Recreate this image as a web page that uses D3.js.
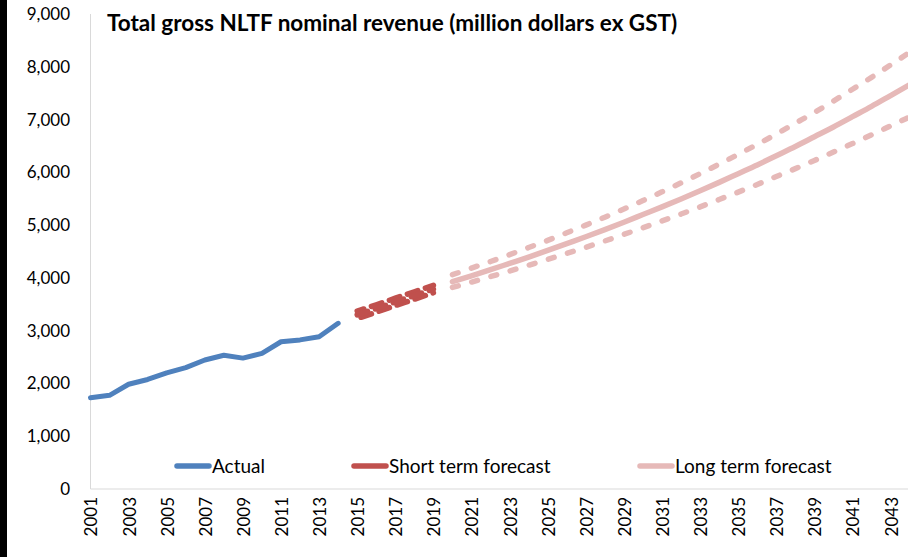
<!DOCTYPE html>
<html lang="en">
<head>
    <meta charset="UTF-8">
    <title>Total gross NLTF nominal revenue</title>
    <style>
        body { margin: 0; background: #fff; }
        svg { display: block; font-family: Lato, "Open Sans", sans-serif; }
        .tick-label { font-size: 17px; fill: #000; }
        .legend-label { font-size: 19px; fill: #000; }
    </style>
</head>
<body>
    <div id="chart"></div>

    <script src="https://d3js.org/d3.v7.min.js"></script>

    <script>
        // Data (million dollars ex GST)
        const actualYears = [2001, 2002, 2003, 2004, 2005, 2006, 2007, 2008, 2009, 2010, 2011, 2012, 2013, 2014];
        const actualValues = [1730, 1775, 1985, 2075, 2200, 2300, 2445, 2535, 2480, 2570, 2790, 2825, 2885, 3140];

        const shortYears = [2015, 2016, 2017, 2018, 2019];
        const shortUpper = [3370, 3490, 3615, 3735, 3860];
        const shortCentral = [3300, 3420, 3545, 3665, 3790];
        const shortLower = [3230, 3350, 3475, 3595, 3720];

        const longYears = [2020, 2021, 2022, 2023, 2024, 2025, 2026, 2027, 2028, 2029, 2030, 2031,
                           2032, 2033, 2034, 2035, 2036, 2037, 2038, 2039, 2040, 2041, 2042, 2043, 2044];
        const longUpper = [4060, 4185, 4310, 4440, 4575, 4710, 4855, 5000, 5150, 5305, 5465, 5630,
                           5800, 5975, 6155, 6340, 6530, 6725, 6930, 7135, 7350, 7575, 7800, 8035, 8275];
        const longCentral = [3930, 4040, 4155, 4275, 4395, 4520, 4650, 4780, 4915, 5055, 5200, 5345,
                             5495, 5650, 5810, 5975, 6140, 6315, 6490, 6675, 6860, 7055, 7250, 7455, 7660];
        const longLower = [3820, 3920, 4025, 4130, 4240, 4350, 4465, 4580, 4700, 4825, 4950, 5080,
                           5210, 5345, 5485, 5625, 5770, 5920, 6070, 6225, 6385, 6545, 6710, 6880, 7050];

        const yTicks = [0, 1000, 2000, 3000, 4000, 5000, 6000, 7000, 8000, 9000];
        const xTickYears = d3.range(2001, 2044, 2);

        const legendItems = ["Actual", "Short term forecast", "Long term forecast"];
        const titleText = "Total gross NLTF nominal revenue (million dollars ex GST)";

        const width = 908, height = 557;
        const colors = { actual: "#4F81BD", short: "#C0504D", long: "#E6B9B8" };

        const x = d3.scaleLinear().domain([2001, 2044]).range([90.5, 90.5 + 43 * 19.05]);
        const y = d3.scaleLinear().domain([0, 9000]).range([489, 14]);

        const svg = d3.select("#chart").append("svg")
            .attr("width", width)
            .attr("height", height);

        // black strip on the left edge
        svg.append("rect")
            .attr("x", 0).attr("y", 0)
            .attr("width", 7).attr("height", height)
            .attr("fill", "#000");

        // axes lines
        svg.append("line")
            .attr("x1", x(2001)).attr("x2", x(2001))
            .attr("y1", y(9000)).attr("y2", y(0))
            .attr("stroke", "#D9D9D9").attr("stroke-width", 1);
        svg.append("line")
            .attr("x1", x(2001)).attr("x2", width)
            .attr("y1", y(0)).attr("y2", y(0))
            .attr("stroke", "#D9D9D9").attr("stroke-width", 1);

        // y tick labels
        svg.selectAll(".ylab")
            .data(yTicks)
            .enter().append("text")
            .attr("class", "tick-label")
            .attr("x", 70)
            .attr("y", d => y(d))
            .attr("dy", "0.35em")
            .attr("text-anchor", "end")
            .text(d => d3.format(",")(d));

        // x tick labels (rotated)
        svg.selectAll(".xlab")
            .data(xTickYears)
            .enter().append("text")
            .attr("class", "tick-label")
            .attr("transform", d => "translate(" + (x(d) + 1) + ",497) rotate(-90)")
            .attr("dy", "0.35em")
            .attr("text-anchor", "end")
            .text(d => d);

        // title
        svg.append("text")
            .attr("x", 107)
            .attr("y", 31)
            .attr("font-size", "22.5px")
            .attr("font-weight", "bold")
            .attr("fill", "#000")
            .text(titleText);

        const line = d3.line()
            .x(d => x(d[0]))
            .y(d => y(d[1]))
            .curve(d3.curveMonotoneX);

        function drawSeries(years, values, color, dash, offset) {
            svg.append("path")
                .datum(years.map((yr, i) => [yr, values[i]]))
                .attr("fill", "none")
                .attr("stroke", color)
                .attr("stroke-width", 5.5)
                .attr("stroke-linecap", "round")
                .attr("stroke-linejoin", "round")
                .attr("stroke-dasharray", dash)
                .attr("stroke-dashoffset", offset || 0)
                .attr("d", line);
        }

        // long term forecast
        drawSeries(longYears, longUpper, colors.long, "6,14");
        drawSeries(longYears, longLower, colors.long, "6,14");
        drawSeries(longYears, longCentral, colors.long, null);

        // short term forecast
        drawSeries(shortYears, shortUpper, colors.short, "11,8", 4);
        drawSeries(shortYears, shortLower, colors.short, "11,8", -4);
        drawSeries(shortYears, shortCentral, colors.short, "11,8", 0);

        // actual
        svg.append("path")
            .datum(actualYears.map((yr, i) => [yr, actualValues[i]]))
            .attr("fill", "none")
            .attr("stroke", colors.actual)
            .attr("stroke-width", 5)
            .attr("stroke-linecap", "round")
            .attr("stroke-linejoin", "round")
            .attr("d", d3.line().x(d => x(d[0])).y(d => y(d[1])));

        // legend
        const legendX = [175, 352, 638];
        const legendColors = [colors.actual, colors.short, colors.long];
        const legend = svg.selectAll(".legend")
            .data(legendItems)
            .enter().append("g")
            .attr("transform", (d, i) => "translate(" + legendX[i] + ",466)");
        legend.append("line")
            .attr("x1", 2).attr("x2", 34)
            .attr("stroke", (d, i) => legendColors[i])
            .attr("stroke-width", 5.5)
            .attr("stroke-linecap", "round");
        legend.append("text")
            .attr("class", "legend-label")
            .attr("x", 37)
            .attr("dy", "0.35em")
            .text(d => d);
    </script>
</body>
</html>
